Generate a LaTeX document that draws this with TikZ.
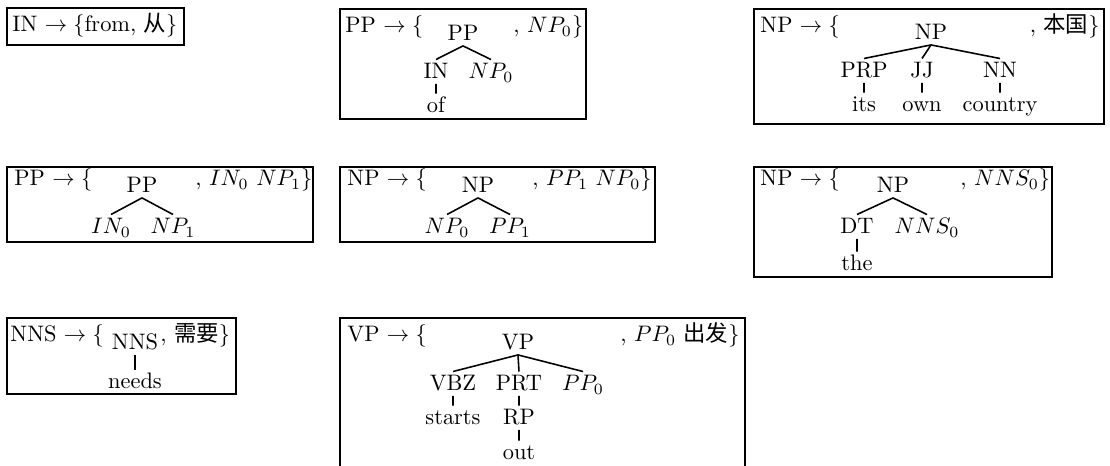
\documentclass[tikz,border=0pt]{standalone}
\usepackage{amsmath,amssymb}
\usepackage{fontspec}
\newfontfamily\cjk{Noto Sans CJK SC}
\usepackage{tikz}

\begin{document}
\begin{tikzpicture}[x=0.4464pt,y=-0.4464pt,
  frame/.style={line width=1.2pt},
  br/.style={line width=0.7pt},
  hd/.style={inner sep=0pt,anchor=base west},
  tl/.style={inner sep=0pt,anchor=base east},
  lbl/.style={inner sep=1.5pt,anchor=base,text height=7pt,text depth=0.5pt}]
\useasboundingbox (0,0) rectangle (1110,466);

% row 1
\draw[frame](7,8) rectangle (184,45);
\node[hd] (inrule) at (12,32) {IN $\rightarrow\{$from, {\cjk 从}$\}$};

\draw[frame](340,9) rectangle (586,119);
\node[hd] (pphead) at (345,33) {PP $\rightarrow\{$};
\node[hd] (pptail) at (513,33) {, $NP_0\}$};
\node[lbl] (pp) at (463,41) {PP};
\node[lbl] (ppin) at (436,79) {IN};
\node[lbl] (ppnp) at (491,79) {$NP_0$};
\node[lbl] (ppof) at (436,113) {of};
\draw[br](pp.south)--(ppin.north) (pp.south)--(ppnp.north)
(ppin.south)--(ppof.north);

\draw[frame](754,9) rectangle (1104,124);
\node[hd] (nphead) at (760,33) {NP $\rightarrow\{$};
\node[tl] (nptail) at (1100,33) {, {\cjk 本国}$\}$};
\node[lbl] (np) at (931,40) {NP};
\node[lbl] (prp) at (864,78) {PRP};
\node[lbl] (jj) at (922,78) {JJ};
\node[lbl] (nn) at (1000,78) {NN};
\node[lbl] (its) at (864,112) {its};
\node[lbl] (own) at (922,112) {own};
\node[lbl] (country) at (1000,112) {country};
\draw[br](np.south)--(prp.north) (np.south)--(jj.north) (np.south)--(nn.north)
(prp.south)--(its.north) (jj.south)--(own.north) (nn.south)--(country.north);

% row 2
\draw[frame](7,167) rectangle (313,242);
\node[hd] (pphead2) at (14,186) {PP $\rightarrow\{$};
\node[hd] (pptail2) at (195,186) {, $IN_0\ NP_1\}$};
\node[lbl] (pp2) at (142,193) {PP};
\node[lbl] (in2) at (111,234) {$IN_0$};
\node[lbl] (np2) at (173,234) {$NP_1$};
\draw[br](pp2.south)--(in2.north) (pp2.south)--(np2.north);

\draw[frame](340,167) rectangle (655,242);
\node[hd] (nphead2) at (347,186) {NP $\rightarrow\{$};
\node[hd] (nptail2) at (532,186) {, $PP_1\ NP_0\}$};
\node[lbl] (np3) at (478,193) {NP};
\node[lbl] (np4) at (447,234) {$NP_0$};
\node[lbl] (pp4) at (510,234) {$PP_1$};
\draw[br](np3.south)--(np4.north) (np3.south)--(pp4.north);

\draw[frame](754,167) rectangle (1052,277);
\node[hd] (nphead3) at (760,186) {NP $\rightarrow\{$};
\node[hd] (nptail3) at (960,186) {, $NNS_0\}$};
\node[lbl] (np5) at (893,193) {NP};
\node[lbl] (dt) at (857,234) {DT};
\node[lbl] (nns5) at (927,234) {$NNS_0$};
\node[lbl] (the) at (857,271) {the};
\draw[br](np5.south)--(dt.north) (np5.south)--(nns5.north) (dt.south)--(the.north);

% row 3
\draw[frame](7,318) rectangle (236,394);
\node[hd] (nnshead) at (10,342) {NNS $\rightarrow\{$};
\node[hd] (nnstail) at (160,342) {, {\cjk 需要}$\}$};
\node[lbl] (nns) at (135,350) {NNS};
\node[lbl] (needs) at (135,389) {needs};
\draw[br](nns.south)--(needs.north);

\draw[frame](340,480) |- (745,318) -- (745,480);
\node[hd] (vphead) at (347,342) {VP $\rightarrow\{$};
\node[tl] (vptail) at (740,342) {, $PP_0$ {\cjk 出发}$\}$};
\node[lbl] (vp) at (518,350) {VP};
\node[lbl] (vbz) at (453,391) {VBZ};
\node[lbl] (prt) at (519,391) {PRT};
\node[lbl] (pp6) at (583,391) {$PP_0$};
\node[lbl] (starts) at (453,425) {starts};
\node[lbl] (rp) at (519,425) {RP};
\node[lbl] (out) at (519,460) {out};
\draw[br](vp.south)--(vbz.north) (vp.south)--(prt.north) (vp.south)--(pp6.north)
(vbz.south)--(starts.north) (prt.south)--(rp.north) (rp.south)--(out.north);
\end{tikzpicture}
\end{document}
